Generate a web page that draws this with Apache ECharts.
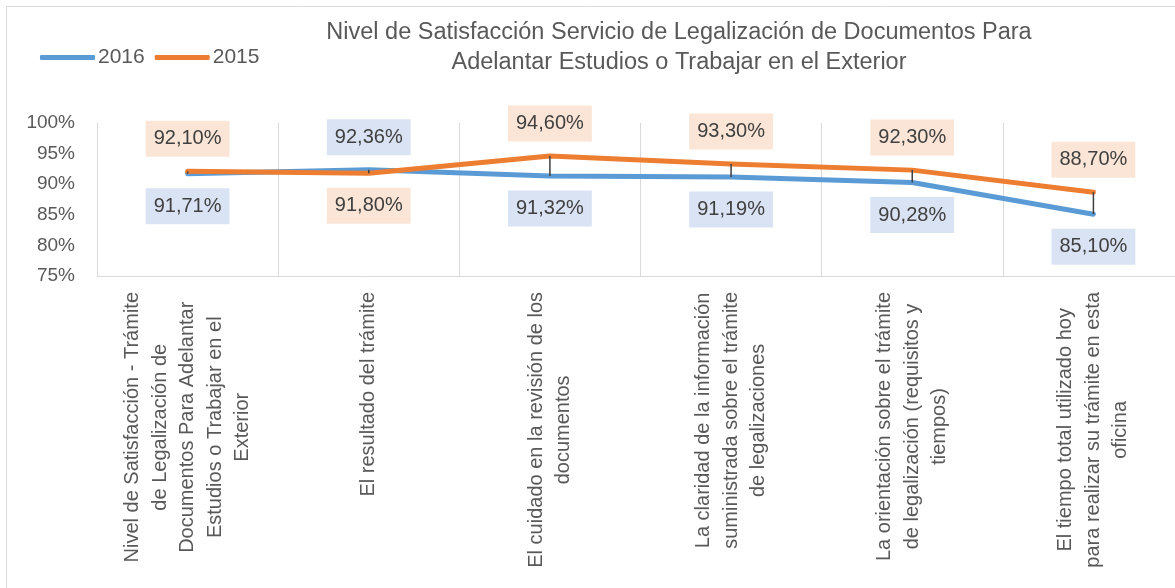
<!DOCTYPE html>
<html>
<head>
<meta charset="utf-8">
<script src="https://cdn.jsdelivr.net/npm/echarts@6/dist/echarts.min.js"></script>
<style>
  html, body { margin: 0; padding: 0; background: #fff; }
  #chart { width: 1175px; height: 588px; }
</style>
</head>
<body>
<div id="chart"></div>
<script>
const FONT = "'Liberation Sans', Arial, sans-serif"

const categories = [
  'Nivel de Satisfacción - Trámite\nde Legalización de\nDocumentos Para Adelantar\nEstudios o Trabajar en el\nExterior',
  'El resultado del trámite',
  'El cuidado en la revisión de los\ndocumentos',
  'La claridad de la información\nsuministrada sobre el trámite\nde legalizaciones',
  'La orientación sobre el trámite\nde legalización (requisitos y\ntiempos)',
  'El tiempo total utilizado hoy\npara realizar su trámite en esta\noficina'
]
const values2016 = [91.71, 92.36, 91.32, 91.19, 90.28, 85.10]
const values2015 = [92.10, 91.80, 94.60, 93.30, 92.30, 88.70]

const fmt = v => v.toFixed(2).replace('.', ',') + '%'

// label goes above the point when that series is the higher one
const buildData = (own, other, bg) => own.map((v, i) => ({
  value: v,
  label: {
    position: v >= other[i] ? 'top' : 'bottom',
    backgroundColor: bg
  }
}))

const labelBase = {
  show: true,
  distance: 14,
  formatter: p => fmt(p.value),
  fontFamily: FONT,
  fontSize: 20,
  lineHeight: 24,
  color: '#404040',
  padding: [6, 8]
}

const chart = echarts.init(document.getElementById('chart'))

const option = {
  animation: false,
  graphic: [{
    type: 'rect',
    shape: { x: 6.5, y: 6.5, width: 1300, height: 700 },
    style: { fill: null, stroke: '#D9D9D9', lineWidth: 1 },
    silent: true
  }],
  title: {
    text: 'Nivel de Satisfacción Servicio de Legalización de Documentos Para\nAdelantar Estudios o Trabajar en el Exterior',
    left: 674,
    top: 13,
    textAlign: 'center',
    textStyle: {
      fontFamily: FONT,
      fontSize: 23.5,
      fontWeight: 'normal',
      lineHeight: 30,
      color: '#595959'
    }
  },
  legend: {
    data: ['2016', '2015'],
    left: 40,
    top: 47,
    padding: 0,
    icon: 'roundRect',
    itemWidth: 55,
    itemHeight: 5,
    itemGap: 10,
    textStyle: { fontFamily: FONT, fontSize: 21, color: '#595959', padding: [0, 0, 0, -2] }
  },
  grid: {
    left: 97,
    right: -9,
    top: 123,
    bottom: 312,
    containLabel: false,
    outerBoundsMode: 'none'
  },
  xAxis: {
    type: 'category',
    data: categories,
    boundaryGap: true,
    axisLine: { lineStyle: { color: '#D9D9D9', width: 1 } },
    axisTick: { show: false },
    splitLine: { show: true, interval: 0, lineStyle: { color: '#D9D9D9', width: 1 } },
    axisLabel: {
      interval: 0,
      rotate: 90,
      margin: 16,
      formatter: v => '{c|' + v + '}',
      rich: {
        c: {
          align: 'center',
          fontFamily: FONT,
          fontSize: 20,
          lineHeight: 27.5,
          color: '#595959'
        }
      }
    }
  },
  yAxis: {
    type: 'value',
    min: 75,
    max: 100,
    interval: 5,
    axisLine: { show: false },
    axisTick: { show: false },
    splitLine: { show: false },
    axisLabel: {
      margin: 22,
      formatter: '{value}%',
      fontFamily: FONT,
      fontSize: 19,
      color: '#595959'
    }
  },
  series: [
    {
      name: '2016',
      type: 'line',
      data: buildData(values2016, values2015, '#DAE3F3'),
      symbol: 'circle',
      symbolSize: 1,
      z: 2,
      lineStyle: { color: '#5B9BD5', width: 5, cap: 'round', join: 'round' },
      itemStyle: { color: '#5B9BD5' },
      label: labelBase
    },
    {
      name: '2015',
      type: 'line',
      data: buildData(values2015, values2016, '#FBE5D6'),
      symbol: 'circle',
      symbolSize: 1,
      z: 3,
      lineStyle: { color: '#ED7D31', width: 5, cap: 'round', join: 'round' },
      itemStyle: { color: '#ED7D31' },
      label: labelBase
    },
    {
      // high-low lines between the two years
      name: 'hilo',
      type: 'custom',
      z: 4,
      data: values2016.map((v, i) => [i, v, values2015[i]]),
      encode: { x: 0, y: [1, 2] },
      renderItem: (params, api) => {
        const a = api.coord([api.value(0), api.value(1)])
        const b = api.coord([api.value(0), api.value(2)])
        return {
          type: 'line',
          shape: { x1: a[0], y1: a[1], x2: b[0], y2: b[1] },
          style: { stroke: '#404040', lineWidth: 1.5 }
        }
      }
    }
  ]
}

chart.setOption(option)
</script>
</body>
</html>
